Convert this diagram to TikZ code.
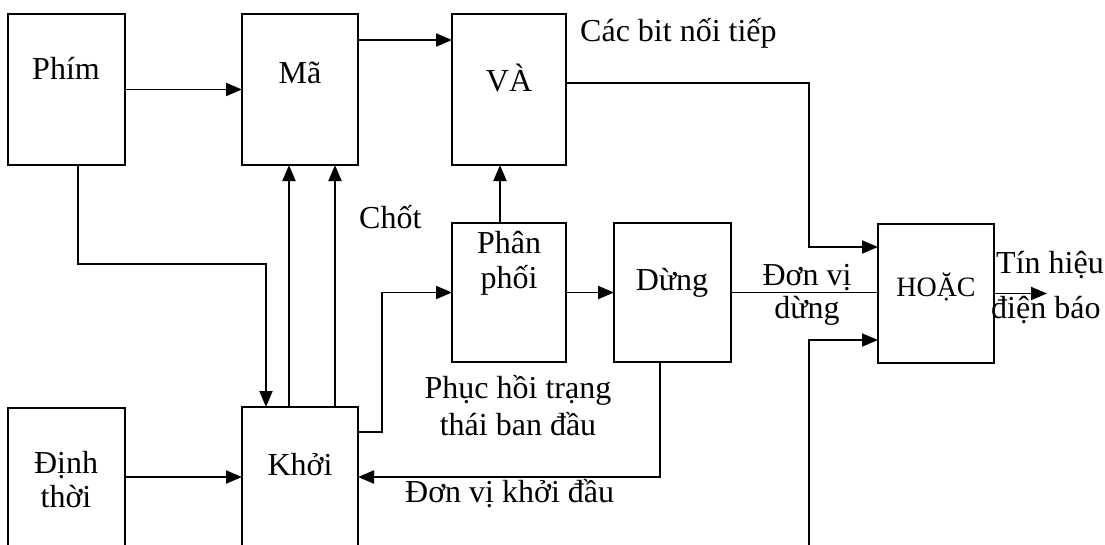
\documentclass[tikz,border=0pt]{standalone}
\usepackage{fontspec}
\setmainfont{Liberation Serif}
\usetikzlibrary{arrows.meta}
\begin{document}
\begin{tikzpicture}[x=1pt,y=-1pt,
  box/.style={draw,line width=2pt,inner sep=0pt,outer sep=0pt},
  txt/.style={font=\fontsize{32}{36}\selectfont,inner sep=0pt,anchor=base},
  conn/.style={line width=1.9pt},
  arr/.style={conn,-{Triangle[length=16pt,width=13pt]}}]
\useasboundingbox (0,0) rectangle (1105,544);
\clip (0,0) rectangle (1105,544);
\fill[white] (0,0) rectangle (1105,544);
% boxes
\node[box,minimum width=117pt,minimum height=151pt] (phim) at (66.5,89.5) {};
\node[box,minimum width=116pt,minimum height=151pt] (ma) at (300,89.5) {};
\node[box,minimum width=114pt,minimum height=151pt] (va) at (509,89.5) {};
\node[box,minimum width=114pt,minimum height=139pt] (pp) at (509,292.5) {};
\node[box,minimum width=117pt,minimum height=139pt] (dung) at (672.5,292.5) {};
\node[box,minimum width=116pt,minimum height=139pt] (hoac) at (936,293.5) {};
\node[box,minimum width=117pt,minimum height=160pt] (dinh) at (66.5,488) {};
\node[box,minimum width=116pt,minimum height=160pt] (khoi) at (300,487) {};
% box texts
\node[txt] (phimT) at (66,79) {Phím};
\node[txt] (maT) at (300,83) {Mã};
\node[txt] (vaT) at (509,91) {VÀ};
\node[txt] (ppT1) at (509,253) {Phân};
\node[txt] (ppT2) at (509,288) {phối};
\node[txt] (dungT) at (672,290) {Dừng};
\node[txt,font=\fontsize{28}{32}\selectfont] (hoacT) at (936,296) {HOẶC};
\node[txt] (khoiT) at (300,475) {Khởi};
\node[txt] (dinhT1) at (66,473) {Định};
\node[txt] (dinhT2) at (66,507) {thời};
% labels
\node[txt,anchor=base west] (bits) at (580,41) {Các bit nối tiếp};
\node[txt,anchor=base west] (chot) at (359,228) {Chốt};
\node[txt] (ph1) at (518,398) {Phục hồi trạng};
\node[txt] (ph2) at (518,435) {thái ban đầu};
\node[txt,anchor=base west] (kd) at (405,502) {Đơn vị khởi đầu};
\node[txt] (dv1) at (807,285) {Đơn vị};
\node[txt] (dv2) at (807,318) {dừng};
\node[txt,anchor=base west] (th1) at (996,273) {Tín hiệu};
\node[txt,anchor=base west] (th2) at (991,318) {điện báo};
% junction coordinates
\coordinate (j1) at (266,264);
\coordinate (j2) at (382,292.5);
\coordinate (j3) at (809,247);
\coordinate (j4) at (809,340);
\coordinate (j5) at (809,550);
\coordinate (j6) at (660,477);
\coordinate (out) at (1047,293.5);
% connectors
\draw[arr] (phim.east) -- (ma.west);
\draw[arr] ([yshift=-26pt]ma.north east) -- ([yshift=-26pt]va.north west);
\draw[arr] ([xshift=11.5pt]phim.south) |- (j1) -- (j1 |- khoi.north);
\draw[arr] ([xshift=-11pt]khoi.north) -- ([xshift=-11pt]ma.south);
\draw[arr] ([xshift=35pt]khoi.north) -- ([xshift=35pt]ma.south);
\draw[arr] ([xshift=-9pt]pp.north) -- ([xshift=-9pt]va.south);
\draw[arr] ([yshift=-25pt]khoi.north east) -| (j2) -- (pp.west);
\draw[arr] (pp.east) -- (dung.west);
\draw[conn] (dung.east) -- (dung.east -| hoac.west);
\draw[arr] ([yshift=-69pt]va.north east) -| (j3) -- (j3 -| hoac.west);
\draw[arr] (j5) |- (j4 -| hoac.west);
\draw[arr] (hoac.east) -- (out);
\draw[arr] ([xshift=-12.5pt]dung.south) -- (j6) -- (j6 -| khoi.east);
\draw[arr] (dinh.east |- j6) -- (khoi.west |- j6);
\end{tikzpicture}
\end{document}
